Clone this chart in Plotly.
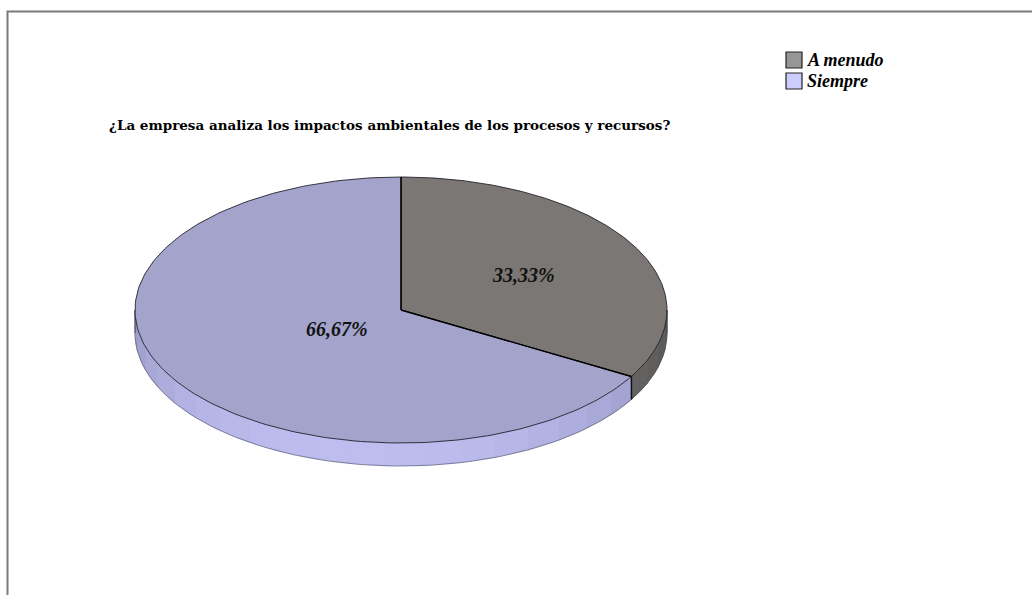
import numpy as np
import plotly.graph_objects as go

# Survey answers and their shares
categories = ["A menudo", "Siempre"]
values = [33.33, 66.67]
value_labels = ["33,33%", "66,67%"]
title_text = "¿La empresa analiza los impactos ambientales de los procesos y recursos?"

# Styling
top_colors = ["#7b7774", "#a3a3cb"]
wall_dark = [(0x5c, 0x5a, 0x58), (0x8c, 0x8c, 0xb6)]
wall_light = [(0x72, 0x70, 0x6e), (0xbd, 0xbd, 0xef)]
legend_colors = ["#969696", "#ccccff"]
label_radius = [0.53, 0.28]
serif = "Liberation Serif, Times New Roman, serif"
wide_serif = "DejaVu Serif, serif"

W, H = 1032, 595
cx, cy, rx, ry, depth = 401, 310, 266, 133, 23


def rim(theta_deg, drop=0.0):
    t = np.radians(np.asarray(theta_deg, dtype=float))
    return cx + rx * np.sin(t), cy - ry * np.cos(t) + drop


def mix(c0, c1, f):
    f = float(np.clip(f, 0, 1))
    return "rgb({},{},{})".format(*[int(round(a + (b - a) * f)) for a, b in zip(c0, c1)])


total = sum(values)
edges = np.concatenate([[0.0], np.cumsum(values) / total * 360.0])

fig = go.Figure()

# Side walls (only the front half of the disc, 90..270 degrees, is visible)
for i in range(len(values)):
    a, b = edges[i], edges[i + 1]
    lo, hi = max(a, 90.0), min(b, 270.0)
    if hi <= lo:
        continue
    n = max(1, int(np.ceil((hi - lo) / 8.0)))
    cuts = np.linspace(lo, hi, n + 1)
    for t0, t1 in zip(cuts[:-1], cuts[1:]):
        ts = np.linspace(t0, t1, 12)
        xt, yt = rim(ts)
        xb, yb = rim(ts[::-1], depth)
        mid = 0.5 * (t0 + t1)
        shade = max(0.0, np.cos(np.radians(mid - 190.0))) ** 0.8
        col = mix(wall_dark[i], wall_light[i], shade)
        fig.add_trace(go.Scatter(
            x=np.concatenate([xt, xb, xt[:1]]),
            y=np.concatenate([yt, yb, yt[:1]]),
            mode="lines", fill="toself", fillcolor=col,
            line=dict(color=col, width=0.8),
            hoverinfo="skip", showlegend=False,
        ))
    # bottom rim of the wall
    ts = np.linspace(lo, hi, 120)
    xb, yb = rim(ts, depth)
    fig.add_trace(go.Scatter(x=xb, y=yb, mode="lines",
                             line=dict(color="rgba(70,70,90,0.55)", width=1),
                             hoverinfo="skip", showlegend=False))
    # vertical edges of the wall at slice boundaries
    for t in (lo, hi):
        if t in (90.0, 270.0):
            continue
        x0, y0 = rim(t)
        fig.add_trace(go.Scatter(
            x=[x0, x0], y=[y0, y0 + depth], mode="lines",
            line=dict(color="#111111", width=1.4),
            hoverinfo="skip", showlegend=False,
        ))

# Side outlines at the extreme left and right of the disc
for xe in (cx - rx, cx + rx):
    fig.add_trace(go.Scatter(x=[xe, xe], y=[cy, cy + depth], mode="lines",
                             line=dict(color="#3a3a3a", width=1),
                             hoverinfo="skip", showlegend=False))

# Top faces of the slices
for i in range(len(values)):
    a, b = edges[i], edges[i + 1]
    ts = np.linspace(a, b, 200)
    xa, ya = rim(ts)
    fig.add_trace(go.Scatter(
        x=np.concatenate([[cx], xa, [cx]]),
        y=np.concatenate([[cy], ya, [cy]]),
        mode="lines", fill="toself", fillcolor=top_colors[i],
        line=dict(color="rgba(25,25,35,0.85)", width=1),
        name=categories[i], hoverinfo="name", showlegend=False,
    ))

# Radial slice edges drawn crisp and dark
for t in edges[:-1]:
    x1, y1 = rim(t)
    fig.add_trace(go.Scatter(x=[cx, x1], y=[cy, y1], mode="lines",
                             line=dict(color="#000000", width=1.4),
                             hoverinfo="skip", showlegend=False))

# Value labels
for i in range(len(values)):
    mid = 0.5 * (edges[i] + edges[i + 1])
    t = np.radians(mid)
    lx = cx + rx * label_radius[i] * np.sin(t)
    ly = cy - ry * label_radius[i] * np.cos(t)
    fig.add_annotation(x=lx, y=ly, text=value_labels[i], showarrow=False,
                       xanchor="center", yanchor="middle",
                       font=dict(family=serif, size=20, color="#111111",
                                 weight="bold", style="italic"))

# Title
fig.add_annotation(x=107, y=125, text=title_text, showarrow=False,
                   xanchor="left", yanchor="middle",
                   font=dict(family=wide_serif, size=13.5, color="#000000", weight="bold"))

# Legend
for i, name in enumerate(categories):
    y0 = 52 + i * 21
    fig.add_shape(type="rect", x0=786, x1=802, y0=y0, y1=y0 + 16,
                  fillcolor=legend_colors[i], line=dict(color="#222222", width=1.2))
    fig.add_annotation(x=805, y=y0 + 8, text=name, showarrow=False,
                       xanchor="left", yanchor="middle",
                       font=dict(family=serif, size=18, color="#000000",
                                 weight="bold", style="italic"))

# Frame around the chart area
fig.add_shape(type="rect", x0=7.5, y0=11.5, x1=W + 10, y1=H + 10,
              line=dict(color="#7a7a7a", width=2), fillcolor="rgba(0,0,0,0)")

fig.update_layout(
    width=W, height=H,
    margin=dict(l=0, r=0, t=0, b=0),
    paper_bgcolor="white", plot_bgcolor="white",
    xaxis=dict(range=[0, W], visible=False, fixedrange=True),
    yaxis=dict(range=[H, 0], visible=False, fixedrange=True),
    showlegend=False,
)

fig.write_html("out.html")
